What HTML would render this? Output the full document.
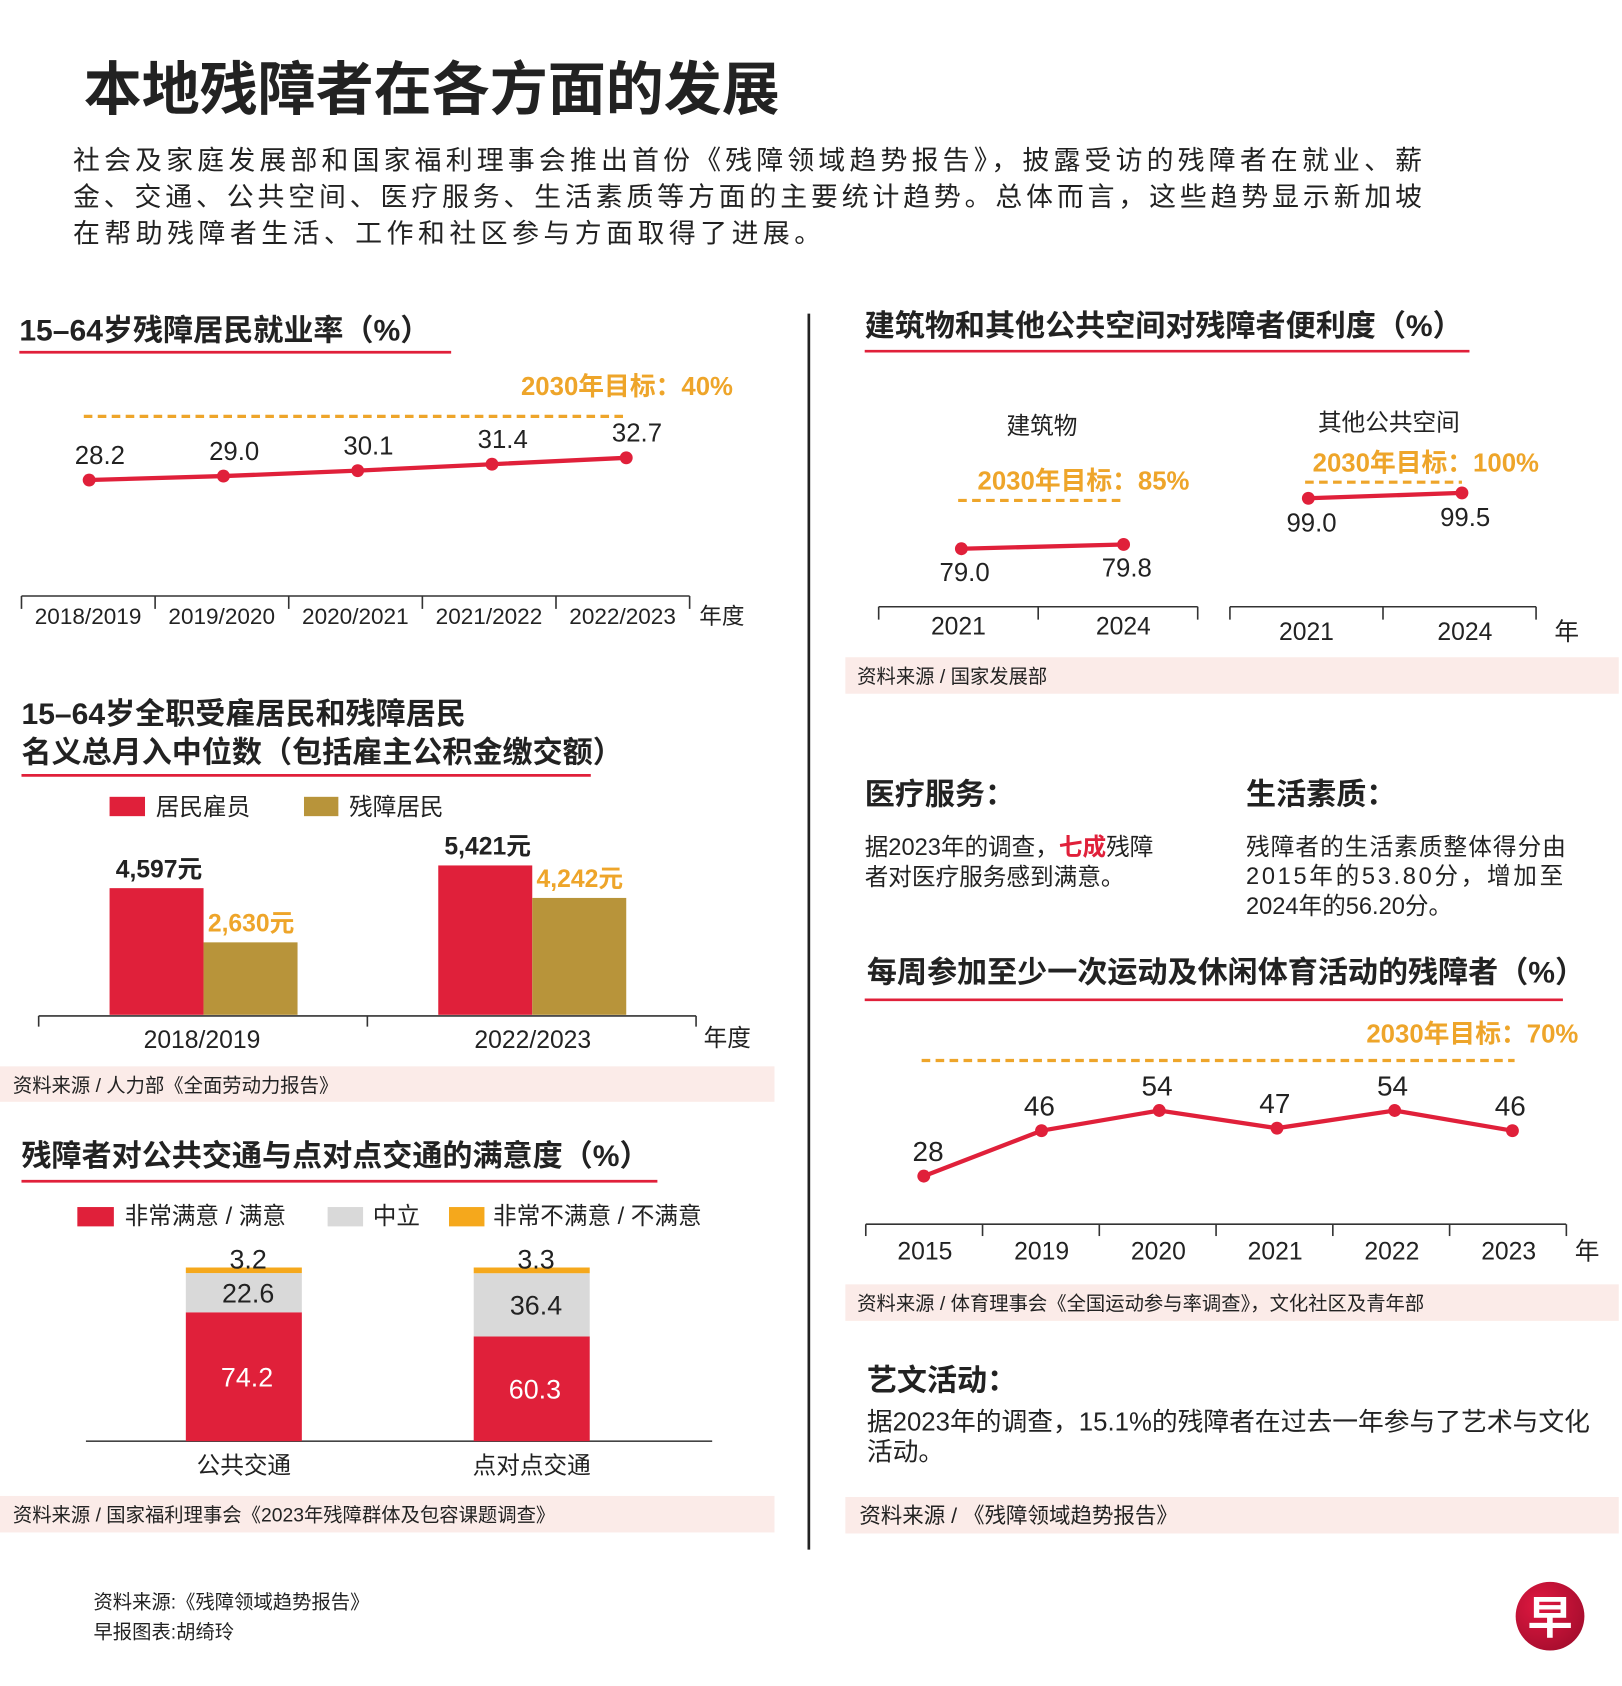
<!DOCTYPE html>
<html><head><meta charset="utf-8"><style>
html,body{margin:0;padding:0;background:#fff;}
svg{display:block;}
text{font-family:"Liberation Sans","Noto Sans CJK SC",sans-serif;fill:#222;}
.b{font-weight:bold;}
</style></head><body>
<svg id="s" width="1622" height="1686" viewBox="0 0 1510 1570" preserveAspectRatio="none" xmlns="http://www.w3.org/2000/svg">
<rect width="1510" height="1570" fill="#fff"/>
<text x="78" y="102" font-size="54" class="b">本地残障者在各方面的发展</text>
<g font-size="25" letter-spacing="4.2">
<text x="68" y="158" textLength="1260" lengthAdjust="spacing">社会及家庭发展部和国家福利理事会推出首份《残障领域趋势报告》，披露受访的残障者在就业、薪</text>
<text x="68" y="192" textLength="1260" lengthAdjust="spacing">金、交通、公共空间、医疗服务、生活素质等方面的主要统计趋势。总体而言，这些趋势显示新加坡</text>
<text x="68" y="226">在帮助残障者生活、工作和社区参与方面取得了进展。</text>
</g>
<line x1="753" y1="292" x2="753" y2="1443" stroke="#222" stroke-width="2.5"/>

<!-- section 1 -->
<text x="18" y="317" font-size="28" class="b">15–64岁残障居民就业率（%）</text>
<line x1="18" y1="328" x2="420" y2="328" stroke="#e0203a" stroke-width="2.5"/>
<text x="485" y="368" font-size="24" class="b" style="fill:#eea52a">2030年目标：40%</text>
<g id="emp"></g>

<!-- section 2 -->
<text x="805" y="313" font-size="28" class="b">建筑物和其他公共空间对残障者便利度（%）</text>
<line x1="805" y1="327" x2="1368" y2="327" stroke="#e0203a" stroke-width="2.5"/>
<text x="970" y="404" font-size="22" text-anchor="middle">建筑物</text>
<text x="1293" y="401" font-size="22" text-anchor="middle">其他公共空间</text>
<text x="910" y="456" font-size="24" class="b" style="fill:#eea52a">2030年目标：85%</text>
<text x="1222" y="439" font-size="24" class="b" style="fill:#eea52a">2030年目标：100%</text>
<g id="acc"></g>
<rect x="787" y="612" width="720" height="34" fill="#fbebe8"/>
<text x="798" y="636" font-size="18">资料来源 / 国家发展部</text>

<!-- section 3 -->
<text x="20" y="674" font-size="28" class="b">15–64岁全职受雇居民和残障居民</text>
<text x="20" y="710" font-size="28" class="b">名义总月入中位数（包括雇主公积金缴交额）</text>
<line x1="20" y1="722" x2="550" y2="722" stroke="#e0203a" stroke-width="2.5"/>
<rect x="102" y="742" width="33" height="18" fill="#e0203a"/>
<text x="145" y="759" font-size="22">居民雇员</text>
<rect x="283" y="742" width="32" height="18" fill="#b8943a"/>
<text x="325" y="759" font-size="22">残障居民</text>
<g id="inc"></g>
<rect x="0" y="993" width="721" height="33" fill="#fbebe8"/>
<text x="12" y="1017" font-size="18">资料来源 / 人力部《全面劳动力报告》</text>

<!-- section 4 -->
<text x="20" y="1086" font-size="28" class="b">残障者对公共交通与点对点交通的满意度（%）</text>
<line x1="20" y1="1100" x2="612" y2="1100" stroke="#e0203a" stroke-width="2.5"/>
<rect x="72" y="1124" width="34" height="18" fill="#e0203a"/>
<text x="116" y="1140" font-size="22">非常满意 / 满意</text>
<rect x="305" y="1124" width="33" height="18" fill="#d9d9d9"/>
<text x="347" y="1140" font-size="22">中立</text>
<rect x="418" y="1124" width="33" height="18" fill="#f5a81c"/>
<text x="459" y="1140" font-size="22">非常不满意 / 不满意</text>
<g id="trn"></g>
<rect x="0" y="1393" width="721" height="34" fill="#fbebe8"/>
<text x="12" y="1417" font-size="18">资料来源 / 国家福利理事会《2023年残障群体及包容课题调查》</text>

<!-- healthcare / quality of life -->
<text x="805" y="749" font-size="28" class="b">医疗服务：</text>
<text x="805" y="796" font-size="22">据2023年的调查，<tspan style="fill:#e0203a" font-weight="bold">七成</tspan>残障</text>
<text x="805" y="824" font-size="22">者对医疗服务感到满意。</text>
<text x="1160" y="749" font-size="28" class="b">生活素质：</text>
<text x="1160" y="796" font-size="22" letter-spacing="1">残障者的生活素质整体得分由</text>
<text x="1160" y="823" font-size="22" letter-spacing="2.5">2015年的53.80分，增加至</text>
<text x="1160" y="851" font-size="22">2024年的56.20分。</text>

<!-- section 5 -->
<text x="807" y="915" font-size="28" class="b">每周参加至少一次运动及休闲体育活动的残障者（%）</text>
<line x1="805" y1="931" x2="1455" y2="931" stroke="#e0203a" stroke-width="2.5"/>
<text x="1272" y="971" font-size="24" class="b" style="fill:#eea52a">2030年目标：70%</text>
<g id="spt"></g>
<rect x="787" y="1196" width="720" height="34" fill="#fbebe8"/>
<text x="798" y="1220" font-size="18">资料来源 / 体育理事会《全国运动参与率调查》，文化社区及青年部</text>

<text x="807" y="1295" font-size="28" class="b">艺文活动：</text>
<text x="807" y="1332" font-size="24">据2023年的调查，15.1%的残障者在过去一年参与了艺术与文化</text>
<text x="807" y="1360" font-size="24">活动。</text>
<rect x="787" y="1394" width="720" height="34" fill="#fbebe8"/>
<text x="800" y="1418" font-size="20">资料来源 / 《残障领域趋势报告》</text>

<text x="87" y="1498" font-size="18">资料来源:《残障领域趋势报告》</text>
<text x="87" y="1526" font-size="18">早报图表:胡绮玲</text>
<defs><radialGradient id="lg" cx="0.35" cy="0.35" r="0.8"><stop offset="0" stop-color="#e01840"/><stop offset="1" stop-color="#a00c2c"/></radialGradient></defs>
<circle cx="1443" cy="1505" r="32" fill="url(#lg)"/>
<text x="1443" y="1521" font-size="42" class="b" text-anchor="middle" style="fill:#fff">早</text>
</svg>
<script>
// ---- data ----
const empYears = ["2018/2019","2019/2020","2020/2021","2021/2022","2022/2023"];
const empValues = [28.2, 29.0, 30.1, 31.4, 32.7];
const empTarget = 40;
const accYears = ["2021","2024"];
const buildingValues = [79.0, 79.8];
const spaceValues = [99.0, 99.5];
const incYears = ["2018/2019","2022/2023"];
const residentIncome = [4597, 5421];
const disabledIncome = [2630, 4242];
const trnCats = ["公共交通","点对点交通"];
const satisfied = [74.2, 60.3];
const neutral = [22.6, 36.4];
const dissatisfied = [3.2, 3.3];
const sportYears = ["2015","2019","2020","2021","2022","2023"];
const sportValues = [28, 46, 54, 47, 54, 46];
const sportTarget = 70;

const NS = "http://www.w3.org/2000/svg";
function mk(parent, tag, attrs, txt){
  const e = document.createElementNS(NS, tag);
  for (const k in attrs) e.setAttribute(k, attrs[k]);
  if (txt !== undefined) e.textContent = txt;
  parent.appendChild(e);
  return e;
}
const RED="#e0203a", GOLD="#b8943a", ORG="#eea52a";

// ---- employment ----
(function(){
  const g = document.getElementById('emp');
  const x = i => 83 + i*125;
  const y = v => 447 - (v-28.2)*4.6;
  let e = mk(g,'line',{x1:78,x2:585,y1:y(empTarget)-5,y2:y(empTarget)-5,stroke:ORG,'stroke-width':3,'stroke-dasharray':'8,5'});
  
  
  e = mk(g,'polyline',{points:empValues.map((v,i)=>x(i)+','+y(v)).join(' '),fill:'none',stroke:RED,'stroke-width':4});
  
  
  empValues.forEach((v,i)=>{
    let c = mk(g,'circle',{cx:x(i),cy:y(v),r:6,fill:RED});
    
    
    let t = mk(g,'text',{x:x(i)+10,y:y(v)-15,'font-size':24,'text-anchor':'middle'},v.toFixed(1));
    
    
  });
  e = mk(g,'line',{x1:20,x2:642,y1:555,y2:555,stroke:'#333','stroke-width':1.5});
  
  
  for(let i=0;i<=empYears.length;i++){
    const tx = 20 + i*124.4;
    let k = mk(g,'line',{x1:tx,x2:tx,y1:555,y2:567,stroke:'#333','stroke-width':1.5});
    
    
  }
  empYears.forEach((yr,i)=>{
    let t = mk(g,'text',{x:82+i*124.4,y:581,'font-size':21,'text-anchor':'middle'},yr);
    
    
  });
  e = mk(g,'text',{x:651,y:581,'font-size':21},'年度');
  
  
})();

// ---- accessibility ----
(function(){
  const g = document.getElementById('acc');
  function panel(vals, x0, x1, yOf, lbl, axX0, axX1, labY, below, targetY, name){
    let e = mk(g,'line',{x1:x0-3,x2:x1,y1:targetY,y2:targetY,stroke:ORG,'stroke-width':3,'stroke-dasharray':'8,5'});
    
    
    const xs=[x0,x1];
    e = mk(g,'polyline',{points:vals.map((v,i)=>xs[i]+','+yOf(v)).join(' '),fill:'none',stroke:RED,'stroke-width':4});
    
    
    vals.forEach((v,i)=>{
      let c = mk(g,'circle',{cx:xs[i],cy:yOf(v),r:6,fill:RED});
      
      
      let t = mk(g,'text',{x:xs[i]+3,y:yOf(v)+below,'font-size':24,'text-anchor':'middle'},v.toFixed(1));
      
      
    });
    const axY = lbl;
    e = mk(g,'line',{x1:axX0,x2:axX1,y1:axY,y2:axY,stroke:'#333','stroke-width':1.5});
    
    
    const mid=(axX0+axX1)/2;
    [axX0,mid,axX1].forEach(tx=>{
      let k = mk(g,'line',{x1:tx,x2:tx,y1:axY,y2:axY+12,stroke:'#333','stroke-width':1.5});
      
      
    });
    accYears.forEach((yr,i)=>{
      let t = mk(g,'text',{x:(axX0+mid)/2+ i*(mid-axX0)+(i?5:0),y:labY,'font-size':23,'text-anchor':'middle'},yr);
      
      
    });
  }
  panel(buildingValues, 895, 1046, v=>511-(v-79)*5, 565, 818, 1115, 591, 30, 466, 'buildings');
  panel(spaceValues, 1218, 1361, v=>464-(v-99)*10, 565, 1145, 1430, 596, 31, 449, 'spaces');
  let e = mk(g,'text',{x:1447,y:596,'font-size':23},'年');
  
  
})();

// ---- income ----
(function(){
  const g = document.getElementById('inc');
  const base = 945, k = 0.02566;
  const h = v => v*k;
  const x0 = [102, 408], bw = 87.5;
  residentIncome.forEach((v,i)=>{
    let r = mk(g,'rect',{x:x0[i],y:base-h(v),width:bw,height:h(v),fill:RED});
    
    
    let t = mk(g,'text',{x:x0[i]+46,y:base-h(v)-10,'font-size':23,'font-weight':'bold','text-anchor':'middle'},v.toLocaleString('en-US')+'元');
    
    
  });
  disabledIncome.forEach((v,i)=>{
    let r = mk(g,'rect',{x:x0[i]+bw,y:base-h(v),width:bw,height:h(v),fill:GOLD});
    
    
    let t = mk(g,'text',{x:x0[i]+bw+4,y:base-h(v)-10,'font-size':23,'font-weight':'bold',style:'fill:'+ORG},v.toLocaleString('en-US')+'元');
    
    
  });
  let e = mk(g,'line',{x1:36,x2:648,y1:946,y2:946,stroke:'#333','stroke-width':1.5});
  
  
  [36,342,648].forEach(tx=>{
    let kk = mk(g,'line',{x1:tx,x2:tx,y1:946,y2:956,stroke:'#333','stroke-width':1.5});
    
    
  });
  incYears.forEach((yr,i)=>{
    let t = mk(g,'text',{x:188+i*308,y:976,'font-size':23,'text-anchor':'middle'},yr);
    
    
  });
  e = mk(g,'text',{x:655,y:974,'font-size':22},'年度');
  
  
})();

// ---- transport ----
(function(){
  const g = document.getElementById('trn');
  const base = 1342, k = 1.617, xs=[173,441], bw=108;
  let e = mk(g,'line',{x1:80,x2:663,y1:base,y2:base,stroke:'#444','stroke-width':1.5});
  
  
  trnCats.forEach((c,i)=>{
    const h1=satisfied[i]*k, h2=neutral[i]*k, h3=dissatisfied[i]*k;
    let r = mk(g,'rect',{x:xs[i],y:base-h1,width:bw,height:h1,fill:RED});
    
    
    r = mk(g,'rect',{x:xs[i],y:base-h1-h2,width:bw,height:h2,fill:'#d9d9d9'});
    
    
    r = mk(g,'rect',{x:xs[i],y:base-h1-h2-h3,width:bw,height:h3,fill:'#f5a81c'});
    
    
    let t = mk(g,'text',{x:xs[i]+57,y:base-h1/2+9,'font-size':25,'text-anchor':'middle',style:'fill:#fff'},satisfied[i].toFixed(1));
    
    
    t = mk(g,'text',{x:xs[i]+58,y:base-h1-h2/2+9,'font-size':25,'text-anchor':'middle'},neutral[i].toFixed(1));
    
    
    t = mk(g,'text',{x:xs[i]+58,y:base-h1-h2-h3+1,'font-size':25,'text-anchor':'middle'},dissatisfied[i].toFixed(1));
    
    
    t = mk(g,'text',{x:xs[i]+54,y:1372,'font-size':22,'text-anchor':'middle'},c);
    
    
  });
})();

// ---- sport ----
(function(){
  const g = document.getElementById('spt');
  const x = i => 860 + i*109.6;
  const y = v => 1161 - v*2.35;
  let e = mk(g,'line',{x1:858,x2:1410,y1:y(sportTarget)-9,y2:y(sportTarget)-9,stroke:ORG,'stroke-width':3,'stroke-dasharray':'8,5'});
  
  
  e = mk(g,'polyline',{points:sportValues.map((v,i)=>x(i)+','+y(v)).join(' '),fill:'none',stroke:RED,'stroke-width':4});
  
  
  sportValues.forEach((v,i)=>{
    let c = mk(g,'circle',{cx:x(i),cy:y(v),r:6,fill:RED});
    
    
    let t = mk(g,'text',{x:x(i)+(i===0?4:-2),y:y(v)-14,'font-size':26,'text-anchor':'middle'},String(v));
    
    
  });
  e = mk(g,'line',{x1:806,x2:1458,y1:1140,y2:1140,stroke:'#333','stroke-width':1.5});
  
  
  for(let i=0;i<=sportYears.length;i++){
    const tx = 806 + i*108.7;
    let kk = mk(g,'line',{x1:tx,x2:tx,y1:1140,y2:1151,stroke:'#333','stroke-width':1.5});
    
    
  }
  sportYears.forEach((yr,i)=>{
    let t = mk(g,'text',{x:861+i*108.7,y:1173,'font-size':23,'text-anchor':'middle'},yr);
    
    
  });
  e = mk(g,'text',{x:1466,y:1173,'font-size':23},'年');
  
  
})();
</script>
</body></html>
